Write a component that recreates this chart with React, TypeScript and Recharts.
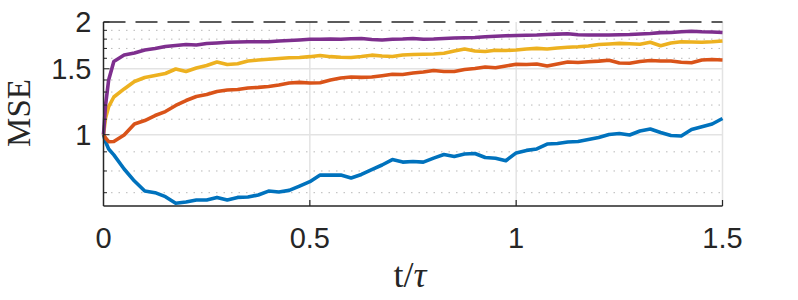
import React from 'react';
import { LineChart, Line, XAxis, YAxis, ReferenceLine } from 'recharts';

const tValues = [
  0, 0.005, 0.0125, 0.025, 0.05, 0.075, 0.1, 0.125, 0.15, 0.175, 0.2, 0.225, 0.25, 0.275, 0.3,
  0.325, 0.35, 0.375, 0.4, 0.425, 0.45, 0.475, 0.5, 0.525, 0.55, 0.575, 0.6, 0.625, 0.65, 0.675,
  0.7, 0.725, 0.75, 0.775, 0.8, 0.825, 0.85, 0.875, 0.9, 0.925, 0.95, 0.975, 1.0, 1.025, 1.05,
  1.075, 1.1, 1.125, 1.15, 1.175, 1.2, 1.225, 1.25, 1.275, 1.3, 1.325, 1.35, 1.375, 1.4, 1.425,
  1.45, 1.475, 1.5,
];

const blueMSE = [
  1.0, 0.958, 0.916, 0.883, 0.81, 0.752, 0.707, 0.7, 0.683, 0.656, 0.661, 0.669, 0.669, 0.68, 0.669,
  0.68, 0.682, 0.69, 0.707, 0.703, 0.71, 0.729, 0.749, 0.78, 0.78, 0.78, 0.766, 0.783, 0.807, 0.83,
  0.858, 0.845, 0.848, 0.845, 0.866, 0.885, 0.875, 0.888, 0.891, 0.869, 0.865, 0.852, 0.894, 0.908,
  0.916, 0.944, 0.947, 0.956, 0.959, 0.971, 0.983, 1.001, 1.007, 0.998, 1.023, 1.036, 1.014, 0.995,
  0.992, 1.032, 1.05, 1.068, 1.105,
];

const redMSE = [
  1.0, 0.98, 0.958, 0.959, 0.998, 1.068, 1.091, 1.125, 1.153, 1.197, 1.234, 1.265, 1.28, 1.304, 1.316,
  1.321, 1.333, 1.338, 1.345, 1.358, 1.374, 1.38, 1.374, 1.377, 1.4, 1.417, 1.426, 1.423, 1.426, 1.437,
  1.45, 1.448, 1.461, 1.47, 1.484, 1.475, 1.475, 1.493, 1.502, 1.516, 1.509, 1.526, 1.543, 1.54,
  1.545, 1.526, 1.545, 1.564, 1.559, 1.566, 1.572, 1.581, 1.554, 1.552, 1.569, 1.578, 1.573, 1.573,
  1.561, 1.557, 1.583, 1.588, 1.583,
];

const yellowMSE = [
  1.0, 1.108, 1.188, 1.261, 1.325, 1.387, 1.422, 1.439, 1.457, 1.498, 1.475, 1.507, 1.53, 1.564, 1.54,
  1.547, 1.573, 1.583, 1.591, 1.598, 1.605, 1.608, 1.616, 1.628, 1.616, 1.61, 1.608, 1.618, 1.631,
  1.623, 1.618, 1.633, 1.638, 1.64, 1.643, 1.65, 1.673, 1.694, 1.673, 1.668, 1.681, 1.678, 1.684,
  1.694, 1.701, 1.694, 1.705, 1.712, 1.717, 1.726, 1.742, 1.747, 1.754, 1.749, 1.744, 1.765, 1.729,
  1.758, 1.772, 1.769, 1.765, 1.771, 1.78,
];

const purpleMSE = [
  1.0, 1.2, 1.4, 1.569, 1.633, 1.653, 1.684, 1.699, 1.72, 1.731, 1.742, 1.736, 1.752, 1.758, 1.765,
  1.769, 1.771, 1.772, 1.772, 1.78, 1.785, 1.791, 1.798, 1.799, 1.801, 1.799, 1.805, 1.807, 1.796,
  1.791, 1.798, 1.801, 1.807, 1.799, 1.801, 1.807, 1.813, 1.815, 1.818, 1.826, 1.832, 1.838, 1.841,
  1.844, 1.846, 1.852, 1.856, 1.861, 1.85, 1.846, 1.846, 1.847, 1.85, 1.852, 1.858, 1.864, 1.873,
  1.875, 1.884, 1.89, 1.884, 1.881, 1.875,
];

const xTicks = [0, 0.5, 1, 1.5];
const yMajor = [1, 1.5, 2];
const yMinor = [0.7, 0.8, 0.9, 1.1, 1.2, 1.3, 1.4, 1.6, 1.7, 1.8, 1.9];
const yTicks = [0.7, 0.8, 0.9, 1, 1.1, 1.2, 1.3, 1.4, 1.5, 1.6, 1.7, 1.8, 1.9, 2];
const xGrid = [0.5, 1, 1.5];
const yGrid = [1, 1.5];

const data = tValues.map((t, i) => ({
  t,
  blue: blueMSE[i],
  red: redMSE[i],
  yellow: yellowMSE[i],
  purple: purpleMSE[i],
}));

const AXIS_COLOR = '#262626';
const TICK_FONT = '"Liberation Sans", Arial, Helvetica, sans-serif';
const TITLE_FONT = '"Liberation Serif", "Times New Roman", serif';
const Y_MARGIN = 12;
const X_MARGIN = 21;
const LINE_W = 3.6;

const YTick = (props: any) => {
  const { x, y, payload } = props;
  const axisX = x + Y_MARGIN;
  const major = yMajor.some((v) => Math.abs(v - payload.value) < 1e-9);
  return (
    <g>
      <line x1={axisX} x2={axisX + (major ? 6 : 3.5)} y1={y} y2={y} stroke={AXIS_COLOR} strokeWidth={1} />
      {major && (
        <text x={x} y={y} dy="0.355em" textAnchor="end" fill={AXIS_COLOR} fontSize={29} fontFamily={TICK_FONT}>
          {payload.value}
        </text>
      )}
    </g>
  );
};

const XTick = (props: any) => {
  const { x, y, payload } = props;
  const axisY = y - X_MARGIN;
  return (
    <g>
      {payload.value !== 0 && (
        <line x1={x} x2={x} y1={axisY} y2={axisY - 6} stroke={AXIS_COLOR} strokeWidth={1.2} />
      )}
      <text x={x} y={y} dy="0.71em" textAnchor="middle" fill={AXIS_COLOR} fontSize={29} fontFamily={TICK_FONT}>
        {payload.value}
      </text>
    </g>
  );
};

const YTitle = () => (
  <text
    x={30}
    y={113}
    transform="rotate(-90 30 113)"
    textAnchor="middle"
    fill={AXIS_COLOR}
    fontSize={33}
    fontFamily={TITLE_FONT}
  >
    MSE
  </text>
);

const XTitle = () => (
  <text x={410} y={287} textAnchor="middle" fill={AXIS_COLOR} fontSize={36} fontFamily={TITLE_FONT}>
    t/<tspan fontStyle="italic">τ</tspan>
  </text>
);

export default function App() {
  return (
    <div style={{ position: 'absolute', left: 0, top: 0, width: 798, height: 300, background: '#fff' }}>
      <LineChart
        width={798}
        height={300}
        data={data}
        margin={{ top: 22, right: 75.5, bottom: 0, left: 0 }}
      >
        {yMinor.map((v) => (
          <ReferenceLine key={'ym' + v} y={v} stroke="#b8b8b8" strokeWidth={1} strokeDasharray="1.5 6" />
        ))}
        {yGrid.map((v) => (
          <ReferenceLine key={'yg' + v} y={v} stroke="#e3e3e3" strokeWidth={1.5} />
        ))}
        {xGrid.map((v) => (
          <ReferenceLine key={'xg' + v} x={v} stroke="#e3e3e3" strokeWidth={1.5} />
        ))}
        <XAxis
          dataKey="t"
          type="number"
          domain={[0, 1.5]}
          ticks={xTicks}
          height={94}
          tickSize={0}
          tickMargin={X_MARGIN}
          tickLine={false}
          axisLine={{ stroke: AXIS_COLOR, strokeWidth: 1.5 }}
          tick={XTick}
          interval={0}
          label={XTitle}
        />
        <YAxis
          type="number"
          scale="log"
          domain={[0.645, 2]}
          allowDataOverflow
          ticks={yTicks}
          width={103.5}
          tickSize={0}
          tickMargin={Y_MARGIN}
          tickLine={false}
          axisLine={{ stroke: AXIS_COLOR, strokeWidth: 1.5 }}
          tick={YTick}
          interval={0}
          label={YTitle}
        />
        <Line type="linear" dataKey="blue" stroke="#0072BD" strokeWidth={LINE_W} strokeLinejoin="round" dot={false} isAnimationActive={false} />
        <Line type="linear" dataKey="red" stroke="#D95319" strokeWidth={LINE_W} strokeLinejoin="round" dot={false} isAnimationActive={false} />
        <Line type="linear" dataKey="yellow" stroke="#EDB120" strokeWidth={LINE_W} strokeLinejoin="round" dot={false} isAnimationActive={false} />
        <Line type="linear" dataKey="purple" stroke="#7E2F8E" strokeWidth={LINE_W} strokeLinejoin="round" dot={false} isAnimationActive={false} />
        <ReferenceLine y={2} stroke={AXIS_COLOR} strokeWidth={1.5} strokeDasharray="22 10" />
      </LineChart>
    </div>
  );
}
